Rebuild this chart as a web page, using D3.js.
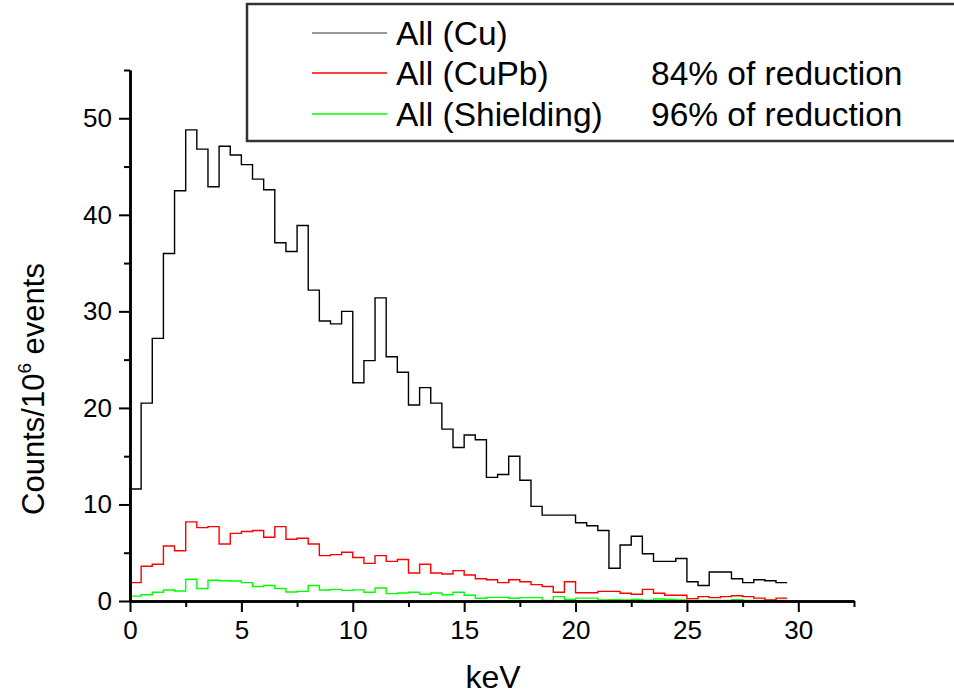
<!DOCTYPE html>
<html>
<head>
<meta charset="utf-8">
<script src="https://cdn.jsdelivr.net/npm/d3@7"></script>
<style>
  body { margin: 0; background: #fff; }
  svg { display: block; font-family: "Liberation Sans", Arial, sans-serif; }
</style>
</head>
<body>
<svg id="chart" width="954" height="697"></svg>
<script>
// counts per 10^6 events, one value per 0.5 keV bin, starting at 0 keV
var binWidth = 0.5;
var cuValues = [11.6, 20.5, 27.2, 36.0, 42.5, 48.8, 46.8, 42.9, 47.1, 46.2,
    45.2, 43.7, 42.6, 37.1, 36.2, 38.9, 32.2, 29.0, 28.7, 30.0,
    22.6, 24.9, 31.4, 25.3, 23.7, 20.3, 22.1, 20.5, 17.8, 15.9,
    17.2, 16.7, 12.8, 13.1, 15.0, 12.5, 9.8, 8.9, 8.9, 8.9,
    8.1, 7.8, 7.3, 3.4, 5.8, 6.7, 4.9, 4.1, 4.1, 4.4,
    2.0, 1.6, 3.0, 3.0, 2.3, 1.9, 2.2, 2.1, 1.9];
var cupbValues = [1.9, 3.6, 3.8, 5.7, 5.2, 8.2, 7.6, 7.7, 5.9, 7.0,
    7.2, 7.3, 6.6, 7.7, 6.4, 6.5, 5.9, 4.7, 4.8, 5.05,
    4.5, 3.9, 4.7, 4.1, 4.3, 2.9, 3.8, 2.9, 2.8, 3.15,
    2.7, 2.3, 2.2, 1.9, 2.2, 2.0, 1.7, 1.5, 0.9, 2.0,
    0.85, 0.85, 1.0, 1.0, 0.8, 0.7, 1.2, 0.8, 0.6, 0.6,
    0.25, 0.45, 0.35, 0.45, 0.55, 0.45, 0.3, 0.1, 0.3];
var shieldValues = [0.5, 0.65, 0.9, 1.14, 1.04, 2.25, 1.3, 2.15, 2.1, 2.07,
    1.9, 1.5, 1.6, 1.3, 0.93, 1.0, 1.6, 1.14, 1.2, 1.1,
    1.15, 0.9, 1.35, 0.76, 0.83, 0.9, 0.7, 0.83, 0.65, 0.9,
    0.6, 0.28, 0.38, 0.38, 0.28, 0.35, 0.35, 0.05, 0.45, 0.17,
    0.3, 0.3, 0.1, 0.14, 0.1, 0.17, 0.07, 0.2, 0.17, 0.1,
    0.05, 0.05, 0.05, 0.05, 0.13, 0.05, 0.05, 0.05, 0.05];

var seriesNames = ["All (Cu)", "All (CuPb)", "All (Shielding)"];
var seriesNotes = ["", "84% of reduction", "96% of reduction"];
var seriesColors = ["#000000", "#ff0000", "#00ff00"];

var xTicks = [0, 5, 10, 15, 20, 25, 30];
var xMinor = [2.5, 7.5, 12.5, 17.5, 22.5, 27.5, 32.5];
var yTicks = [0, 10, 20, 30, 40, 50];
var yMinor = [5, 15, 25, 35, 45, 55];

var svg = d3.select("#chart");

var xScale = d3.scaleLinear().domain([0, 32.5]).range([130, 854]);
var yScale = d3.scaleLinear().domain([0, 55]).range([601, 70]);

// histogram outlines, drawn back to front so Cu sits on top
var line = d3.line()
    .x(function (d) { return xScale(d[0]); })
    .y(function (d) { return yScale(d[1]); })
    .curve(d3.curveStepAfter);

function stepPoints(values) {
    var pts = [[0, 0]];
    values.forEach(function (v, i) { pts.push([i * binWidth, v]); });
    pts.push([values.length * binWidth, values[values.length - 1]]);
    return pts;
}

var allSeries = [cuValues, cupbValues, shieldValues];
for (var s = allSeries.length - 1; s >= 0; s--) {
    svg.append("path")
        .attr("d", line(stepPoints(allSeries[s])))
        .attr("fill", "none")
        .attr("stroke", seriesColors[s])
        .attr("stroke-width", 1.4);
}

// axes: majors with labels, minors without
function styleAxis(g) {
    g.select(".domain").attr("stroke-width", 2.5);
    g.selectAll(".tick line").attr("stroke-width", 2);
    g.selectAll("text").attr("font-size", 26).attr("fill", "#000")
        .attr("font-family", "Liberation Sans, Arial, sans-serif");
}

svg.append("g")
    .attr("transform", "translate(0,601)")
    .call(d3.axisBottom(xScale).tickValues(xMinor).tickSize(6).tickSizeOuter(0).tickFormat(""))
    .call(styleAxis);
svg.append("g")
    .attr("transform", "translate(0,601)")
    .call(d3.axisBottom(xScale).tickValues(xTicks).tickSize(11).tickSizeOuter(0).tickPadding(9).tickFormat(d3.format("d")))
    .call(styleAxis);

svg.append("g")
    .attr("transform", "translate(130,0)")
    .call(d3.axisLeft(yScale).tickValues(yMinor).tickSize(6).tickSizeOuter(0).tickFormat(""))
    .call(styleAxis);
svg.append("g")
    .attr("transform", "translate(130,0)")
    .call(d3.axisLeft(yScale).tickValues(yTicks).tickSize(11).tickSizeOuter(0).tickPadding(7).tickFormat(d3.format("d")))
    .call(styleAxis);

// axis titles
svg.append("text")
    .attr("x", 493).attr("y", 688)
    .attr("text-anchor", "middle")
    .attr("font-size", 32)
    .text("keV");

var yTitle = svg.append("text")
    .attr("transform", "translate(44,389) rotate(-90)")
    .attr("text-anchor", "middle")
    .attr("font-size", 31);
yTitle.append("tspan").text("Counts/10");
yTitle.append("tspan").attr("font-size", 19).attr("dy", -13).text("6");
yTitle.append("tspan").attr("dy", 13).text(" events");

// legend
var legend = svg.append("g");
legend.append("rect")
    .attr("x", 247).attr("y", 4)
    .attr("width", 730).attr("height", 137)
    .attr("fill", "#fff")
    .attr("stroke", "#333")
    .attr("stroke-width", 2.5);

var rowY = [33, 73, 114];
seriesNames.forEach(function (name, i) {
    legend.append("line")
        .attr("x1", 312).attr("x2", 387)
        .attr("y1", rowY[i]).attr("y2", rowY[i])
        .attr("stroke", i == 0 ? "#777" : seriesColors[i])
        .attr("stroke-width", 1.4);
    legend.append("text")
        .attr("x", 396).attr("y", rowY[i])
        .attr("dy", "0.36em")
        .attr("font-size", 33.5)
        .text(name);
    legend.append("text")
        .attr("x", 651).attr("y", rowY[i])
        .attr("dy", "0.36em")
        .attr("font-size", 33.5)
        .text(seriesNotes[i]);
});
</script>
</body>
</html>
